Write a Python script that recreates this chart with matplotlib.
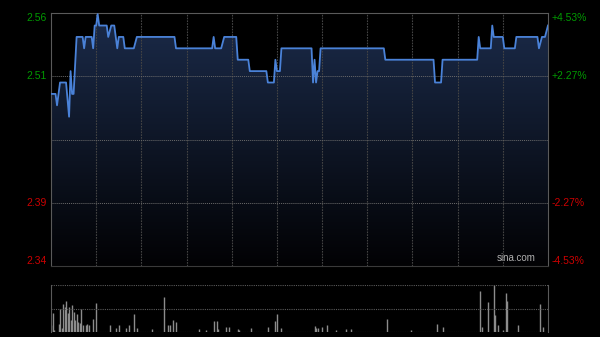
import numpy as np
import matplotlib
matplotlib.use("Agg")
import matplotlib.pyplot as plt

plt.rcParams['font.family'] = ['Liberation Sans', 'DejaVu Sans']

# intraday price (minute index from 9:30, price in HKD)
minutes = [0, 3, 4, 6, 10, 12, 13, 14, 15, 17, 21, 22, 23, 27, 28, 29, 30, 31, 32,
           37, 38, 40, 42, 44, 45, 48, 49, 55, 57, 82, 83, 107, 108, 109, 113, 115,
           123, 124, 131, 132, 143, 144, 148, 149, 150, 152, 153, 173, 174, 175, 176,
           177, 178, 179, 221, 222, 254, 255, 259, 260, 283, 284, 285, 292, 293, 294,
           300, 301, 308, 309, 323, 324, 326, 328, 330]
prices = [2.49, 2.49, 2.48, 2.50, 2.50, 2.47, 2.51, 2.49, 2.49, 2.54, 2.54, 2.53, 2.54,
          2.54, 2.53, 2.55, 2.55, 2.56, 2.55, 2.55, 2.54, 2.55, 2.55, 2.53, 2.54, 2.54,
          2.53, 2.53, 2.54, 2.54, 2.53, 2.53, 2.54, 2.53, 2.53, 2.54, 2.54, 2.52, 2.52,
          2.51, 2.51, 2.50, 2.50, 2.52, 2.51, 2.51, 2.53, 2.53, 2.50, 2.52, 2.50, 2.51,
          2.51, 2.53, 2.53, 2.52, 2.52, 2.50, 2.50, 2.52, 2.52, 2.54, 2.53, 2.53, 2.55,
          2.54, 2.54, 2.53, 2.53, 2.54, 2.54, 2.53, 2.54, 2.54, 2.55]
prev_close = 2.45

# volume (relative to largest bar)
vol_minutes = [0, 1, 2, 5, 6, 7, 8, 9, 10, 11, 12, 13, 14, 15, 16, 17, 18, 19, 20, 21,
               23, 24, 25, 28, 30, 39, 43, 45, 50, 52, 55, 57, 67, 75, 78, 79, 81, 83,
               98, 103, 108, 110, 111, 116, 118, 124, 125, 133, 144, 149, 150, 153,
               175, 176, 177, 180, 183, 189, 196, 199, 223, 239, 256, 260, 285, 286,
               290, 294, 295, 297, 300, 302, 303, 310, 325, 327]
volumes = [0.15, 0.41, 0.05, 0.18, 0.50, 0.08, 0.59, 0.53, 0.66, 0.41, 0.53, 0.25, 0.57,
           0.43, 0.25, 0.38, 0.21, 0.19, 0.50, 0.15, 0.15, 0.16, 0.15, 0.27, 0.62, 0.15,
           0.09, 0.15, 0.09, 0.15, 0.39, 0.09, 0.06, 0.75, 0.15, 0.15, 0.25, 0.21, 0.06,
           0.05, 0.23, 0.23, 0.06, 0.10, 0.10, 0.06, 0.04, 0.08, 0.10, 0.23, 0.39, 0.08,
           0.12, 0.08, 0.08, 0.10, 0.15, 0.04, 0.06, 0.06, 0.28, 0.04, 0.16, 0.10, 0.87,
           0.10, 0.63, 1.00, 0.37, 0.15, 0.04, 0.84, 0.65, 0.15, 0.59, 0.10]

grid_minutes = list(range(30, 330, 30))
pct_levels = [4.53, 2.27, -2.27, -4.53]

fig = plt.figure(figsize=(6, 3.37), dpi=100, facecolor='black')
ax = fig.add_axes([0.085, 0.2107, 0.8283, 0.7507], facecolor='black')
axv = fig.add_axes([0.085, 0.0148, 0.8283, 0.1395], facecolor='black')

lo = prev_close * (1 - 0.0453)
hi = prev_close * (1 + 0.0453)
ax.set_xlim(0, 330)
ax.set_ylim(lo, hi)

# gradient fill under the price line
fill = ax.fill_between(minutes, prices, lo, color='none', lw=0)
grad = np.linspace(1, 0, 256).reshape(-1, 1)
top_c = np.array([27, 43, 74]) / 255
bot_c = np.array([2, 2, 4]) / 255
img = bot_c + (top_c - bot_c) * grad[..., None]
im = ax.imshow(img, extent=[0, 330, lo, hi], aspect='auto', origin='upper', zorder=1)
im.set_clip_path(fill.get_paths()[0], transform=ax.transData)

ax.plot(minutes, prices, color='#4a82d8', lw=1.3, zorder=4, solid_joinstyle='round')

# grid
for m in grid_minutes:
    ax.axvline(m, color='#444444', lw=0.8, ls=(0, (1.5, 1)), zorder=2)
    axv.axvline(m, color='#000000', lw=0)
for p in [2.27, 0, -2.27]:
    ax.axhline(prev_close * (1 + p / 100), color='#6a6a6a', lw=0.7, ls=(0, (1, 1)), zorder=2)

for sp in ax.spines.values():
    sp.set_color('#5a5a5a')
ax.spines['bottom'].set_color('#3a3a3a')
ax.set_xticks([])
ax.set_yticks([])

# labels
for p in pct_levels:
    y = prev_close * (1 + p / 100)
    col = '#009900' if p > 0 else '#cc0000'
    va = 'center'
    if p == 4.53:
        va = 'top'
    elif p == -4.53:
        va = 'bottom'
    ax.text(-0.008, y, f'{y:.2f}', transform=ax.get_yaxis_transform(), ha='right',
            va=va, color=col, fontsize=7.5)
    ax.text(1.008, y, f'{p:+.2f}%', transform=ax.get_yaxis_transform(), ha='left',
            va=va, color=col, fontsize=7.5)

ax.text(0.975, 0.012, 'sina.com', transform=ax.transAxes, ha='right', va='bottom',
        color='#b0b0b0', fontsize=7)

# volume panel
axv.set_xlim(0, 330)
axv.set_ylim(0, 1.0)
axv.vlines(vol_minutes, 0, volumes, color='#8c8c8c', lw=1)
for v in [0, 0.5, 1.0]:
    axv.axhline(v, color='#5a5a5a', lw=0.8, ls=(0, (1, 1)))
for s in ['top', 'bottom']:
    axv.spines[s].set_visible(False)
for s in ['left', 'right']:
    axv.spines[s].set_color('#5a5a5a')
axv.set_xticks([])
axv.set_yticks([])

fig.savefig('out.png', dpi=100, facecolor='black')
